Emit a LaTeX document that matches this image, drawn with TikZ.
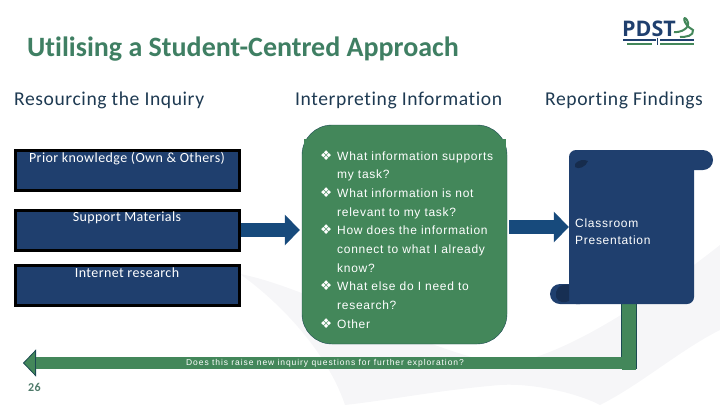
\documentclass[tikz,border=0pt]{standalone}
\usepackage{fontspec}
\setmainfont[LetterSpace=3,Ligatures=NoCommon]{Carlito}
\newfontfamily\titlefont[Ligatures=NoCommon]{Carlito}
\newfontfamily\bodyfont[LetterSpace=6]{Liberation Sans}
\newfontfamily\smallfont[LetterSpace=11]{Liberation Sans}
\newfontfamily\logofont{Open Sans}
\newfontfamily\symbolfont{DejaVu Sans}
\usetikzlibrary{arrows.meta, positioning}
\definecolor{navy}{HTML}{1F3F6E}
\definecolor{arrowblue}{HTML}{174A7C}
\definecolor{leaf}{HTML}{43875A}
\definecolor{leafedge}{HTML}{1B4A52}
\definecolor{titlegreen}{HTML}{3F7F63}
\definecolor{headblue}{HTML}{1E3A52}
\definecolor{pagegreen}{HTML}{4F7A6A}
\definecolor{faint}{HTML}{F6F6F8}
\tikzset{x=1pt, y=-1pt,
    heading/.style={text=headblue, font=\fontsize{19.6}{24}\selectfont, inner sep=0pt},
    inputbox/.style={draw=black, line width=3pt, fill=navy, minimum width=224pt, minimum height=40pt, inner sep=0pt},
    boxtext/.style={text=white, font=\fontsize{14}{16}\selectfont, inner sep=0pt},
    blockarrow/.style={draw=arrowblue, line width=14pt, -{Triangle[length=15pt, width=30pt]}},
}
\newcommand{\qitem}{\makebox[17pt][l]{\symbolfont\fontsize{13.5}{12}\selectfont ❖}}
\begin{document}
\begin{tikzpicture}
    \useasboundingbox (0, 0) rectangle (720, 405);
    % background
    \fill[faint] (240, 274) .. controls (300, 285) and (400, 340) .. (500, 365) .. controls (560, 360) and (650, 300) .. (720, 245)
        -- (720, 330) .. controls (680, 350) and (640, 385) .. (600, 405) .. controls (575, 392) and (530, 383) .. (500, 385)
        .. controls (440, 390) and (390, 400) .. (345, 405) .. controls (330, 360) and (290, 310) .. (240, 274) -- cycle;

    \node[text=titlegreen, font=\titlefont\bfseries\fontsize{28}{32}\selectfont, anchor=west, inner sep=0pt] (title) at (27, 49.5) {Utilising a Student-Centred Approach};
    \node[heading, anchor=west] (inquiry) at (14, 100.5) {Resourcing the Inquiry};
    \node[heading, anchor=west] (interpret) at (295, 100.5) {Interpreting Information};
    \node[heading, anchor=west] (report) at (545, 100.5) {Reporting Findings};

    % logo
    \node[text=navy, font=\logofont\bfseries\fontsize{21.5}{22}\selectfont, anchor=west, inner sep=0pt] (logo) at (622, 29) {PDST};
    \draw[leaf, line width=2pt] (674, 32) .. controls (680, 33) and (692, 28) .. (687, 20) .. controls (683, 14) and (682, 24) .. (693, 30) .. controls (694, 36) and (686, 37) .. (680, 37);
    \fill[navy] (623, 39) rectangle (656, 41);
    \fill[leaf] (627, 42.5) rectangle (652, 44.5);
    \fill[navy] (657, 38) rectangle (658, 45);
    \fill[navy] (660, 39) rectangle (694, 41);
    \fill[leaf] (660, 42.5) rectangle (694, 44.5);

    % left column
    \node[inputbox] (prior) at (127.5, 170.5) {};
    \node[inputbox] (support) at (127.5, 230) {};
    \node[inputbox] (internet) at (127.5, 285) {};
    \node[boxtext] (priortext) at (127, 159) {Prior knowledge (Own \& Others)};
    \node[boxtext] (supporttext) at (127, 218) {Support Materials};
    \node[boxtext] (internettext) at (127, 273) {Internet research};

    % middle
    \node[draw=leafedge, fill=leaf, rounded corners=30pt, minimum width=205pt, minimum height=219pt, inner sep=0pt] (questions) at (404.5, 234.5) {};
    \fill[leaf] (304, 139) rectangle (506, 165);
    \node[text=white, anchor=north west, inner sep=0pt, align=left, font=\bodyfont\fontsize{12}{18.7}\selectfont] (questiontext) at (320, 150) {%
        \qitem What information supports\\
        \hspace*{17pt}my task?\\
        \qitem What information is not\\
        \hspace*{17pt}relevant to my task?\\
        \qitem How does the information\\
        \hspace*{17pt}connect to what I already\\
        \hspace*{17pt}know?\\
        \qitem What else do I need to\\
        \hspace*{17pt}research?\\
        \qitem Other};

    % scroll
    \coordinate (backdown) at (629, 369);
    \coordinate (backstart) at (637, 363);
    \coordinate (backend) at (23, 363);
    \draw[leafedge, line width=16pt] (backdown |- 0, 300) -- (backdown);
    \draw[leaf, line width=14.5pt] (backdown |- 0, 300) -- ([yshift=-.7pt]backdown);
    \draw[leafedge, line width=12.8pt, -{Triangle[length=13pt, width=27pt, fill=leaf, line width=.8pt]}] (backstart) -- (backend);
    \draw[leaf, line width=11.2pt, shorten >=12.5pt] ([xshift=-.8pt]backstart) -- (backend);
    \fill[navy, rounded corners=10pt] (575, 150) rectangle (713, 170);
    \fill[navy, rounded corners=10pt] (550, 284) rectangle (590, 304);
    \node[fill=navy, rounded corners=7pt, minimum width=125pt, minimum height=154pt, inner sep=0pt] (scroll) at (631.5, 227) {};
    \fill[navy!70!black] (575, 164) .. controls (578, 160) and (584, 159) .. (588, 161) .. controls (586, 167) and (578, 170) .. (575, 167) -- cycle;
    \fill[navy!75!black] (569, 284.5) .. controls (558, 284) and (555, 290) .. (556, 297) .. controls (558, 303) and (565, 303) .. (569, 301) -- cycle;
    \node[text=white, anchor=west, inner sep=0pt, align=left, font=\bodyfont\fontsize{12}{17}\selectfont] (scrolltext) at (575, 231.5) {Classroom\\Presentation};

    % arrows
    \draw[blockarrow, shorten >=2pt] (support.east) -- (questions.west |- support.east);
    \draw[blockarrow, shorten <=2pt] (questions.east |- scroll.west) -- (scroll.west);

    \node[text=white, inner sep=0pt, font=\smallfont\fontsize{8.5}{10}\selectfont] (backtext) at (325, 363) {Does this raise new inquiry questions for further exploration?};
    \node[text=pagegreen, inner sep=0pt, font=\bfseries\fontsize{12}{14}\selectfont] (pagenum) at (34.5, 387) {26};
\end{tikzpicture}
\end{document}
